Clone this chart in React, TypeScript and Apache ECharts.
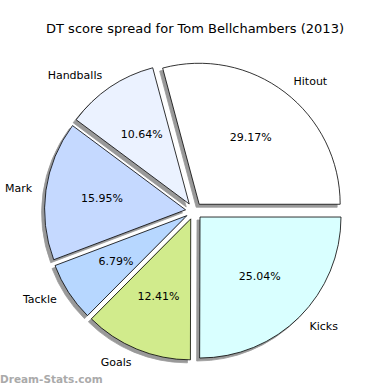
import React, { useEffect, useRef } from "react";
import * as echarts from "echarts";

const titleText = "DT score spread for Tom Bellchambers (2013)";
const categories = ["Hitout", "Handballs", "Mark", "Tackle", "Goals", "Kicks"];
const percents = [29.17, 10.64, 15.95, 6.79, 12.41, 25.04];
const sliceColors = ["#ffffff", "#ebf2ff", "#c5d9ff", "#b7d7ff", "#d1eb8c", "#d9ffff"];
const watermark = "Dream-Stats.com";

const FONT = "DejaVu Sans";

export default function App() {
  const ref = useRef<HTMLDivElement>(null);
  useEffect(() => {
    if (!ref.current) return;
    const chart = echarts.init(ref.current, null, { renderer: "svg" });
    const center = [194, 211];
    const R = 141;
    const offset = 8.5;
    chart.setOption({
      animation: false,
      backgroundColor: "#ffffff",
      title: {
        text: titleText,
        left: "center",
        top: 17,
        textStyle: { fontFamily: FONT, fontSize: 13, fontWeight: "normal", color: "#000" },
      },
      graphic: [
        {
          type: "text",
          left: 0,
          top: 373,
          style: {
            text: watermark,
            fill: "#aaaaaa",
            font: "bold 10.5px 'DejaVu Sans'",
          },
        },
      ],
      series: [
        {
          type: "pie",
          center,
          radius: R,
          startAngle: 0,
          clockwise: false,
          selectedMode: "multiple",
          selectedOffset: offset,
          avoidLabelOverlap: false,
          emphasis: { disabled: true },
          itemStyle: {
            borderColor: "#000",
            borderWidth: 0.8,
            shadowColor: "rgba(0,0,0,0.4)",
            shadowOffsetX: -3,
            shadowOffsetY: 3,
            shadowBlur: 0,
          },
          label: {
            show: true,
            position: "outside",
            formatter: "{b}",
            fontFamily: FONT,
            fontSize: 11,
            color: "#000",
            distanceToLabelLine: 0,
          },
          labelLine: { show: false, length: 14, length2: 0 },
          data: categories.map((name, i) => ({
            name,
            value: percents[i],
            selected: true,
            itemStyle: { color: sliceColors[i] },
            select: { itemStyle: { color: sliceColors[i], borderColor: "#000", borderWidth: 0.8 } },
          })),
        },
        {
          type: "pie",
          center,
          radius: 163,
          startAngle: 0,
          clockwise: false,
          silent: true,
          selectedMode: "multiple",
          selectedOffset: offset,
          avoidLabelOverlap: false,
          emphasis: { disabled: true },
          itemStyle: { color: "transparent", borderWidth: 0 },
          label: {
            show: true,
            position: "inside",
            formatter: (p: any) => p.value.toFixed(2) + "%",
            fontFamily: FONT,
            fontSize: 11,
            color: "#000",
          },
          labelLine: { show: false },
          data: categories.map((name, i) => ({
            name,
            value: percents[i],
            selected: true,
            select: { itemStyle: { color: "transparent", borderWidth: 0 } },
          })),
        },
      ],
    });
    return () => chart.dispose();
  }, []);
  return (
    <div
      ref={ref}
      style={{ position: "fixed", left: 0, top: 0, width: 390, height: 390 }}
    />
  );
}
